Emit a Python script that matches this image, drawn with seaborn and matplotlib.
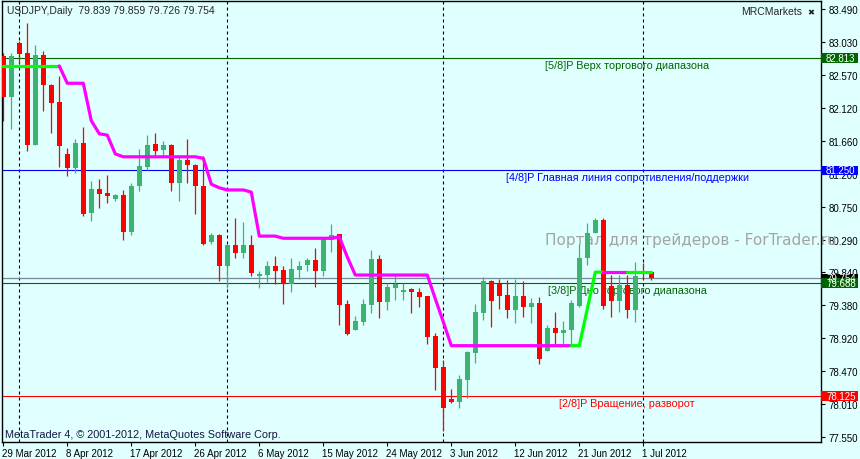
import matplotlib

matplotlib.use("Agg")
import matplotlib.pyplot as plt
import matplotlib.transforms as mtransforms
import numpy as np
import pandas as pd
import seaborn as sns
from matplotlib.patches import Rectangle

# ---- data (USDJPY daily, 29 Mar - 2 Jul 2012) ----
header_text = "USDJPY,Daily  79.839 79.859 79.726 79.754"
broker_text = "MRCMarkets"
copyright_text = "MetaTrader 4, © 2001-2012, MetaQuotes Software Corp."
watermark_text = "Портал для трейдеров - ForTrader.ru"

opens = [82.84, 82.27, 83.02, 82.88, 81.61, 82.85, 82.44, 82.20, 81.48, 81.29,
         81.63, 80.66, 80.99, 80.94, 80.86, 80.91, 80.39, 81.03, 81.30, 81.62,
         81.54, 81.61, 81.07, 81.40, 81.33, 81.04, 80.26, 80.36, 79.92, 80.22,
         80.11, 80.22, 79.79, 79.80, 79.92, 79.87, 79.67, 79.87, 79.94, 80.01,
         79.85, 80.29, 80.37, 79.40, 79.04, 79.15, 79.39, 80.02, 79.43, 79.62,
         79.57, 79.60, 79.56, 79.51, 78.96, 78.52, 78.08, 78.04, 78.35, 78.72,
         79.28, 79.72, 79.68, 79.52, 79.31, 79.51, 79.35, 79.41, 78.75, 79.07,
         79.00, 79.04, 79.37, 80.03, 80.38, 80.56, 79.65, 79.44, 79.66, 79.31,
         79.84, 79.839]
highs = [82.88, 82.88, 83.05, 83.30, 82.99, 82.91, 82.45, 82.56, 81.56, 81.69,
         81.85, 81.10, 81.13, 81.19, 80.93, 80.98, 81.08, 81.55, 81.74, 81.77,
         81.66, 81.62, 81.44, 81.69, 81.34, 81.45, 80.38, 80.37, 80.23, 80.59,
         80.54, 80.36, 79.86, 79.99, 80.07, 79.93, 80.03, 79.99, 80.04, 80.18,
         80.32, 80.51, 80.37, 79.45, 79.23, 79.47, 80.15, 80.08, 79.69, 79.81,
         79.69, 79.62, 79.62, 79.51, 78.99, 78.62, 78.22, 78.42, 78.75, 79.40,
         79.77, 79.73, 79.74, 79.73, 79.75, 79.72, 79.48, 79.50, 79.10, 79.29,
         79.16, 79.45, 80.23, 80.52, 80.59, 80.59, 79.80, 79.80, 79.80, 79.98,
         79.97, 79.859]
lows = [81.93, 81.82, 82.74, 81.52, 81.60, 82.08, 81.77, 81.30, 81.18, 81.21,
        80.62, 80.55, 80.73, 80.80, 80.82, 80.28, 80.35, 80.97, 81.25, 81.46,
        81.44, 80.96, 80.83, 81.07, 80.65, 80.21, 80.23, 79.72, 79.62, 80.03,
        80.03, 79.78, 79.62, 79.71, 79.68, 79.40, 79.57, 79.74, 79.86, 79.64,
        79.79, 80.12, 79.11, 78.97, 79.04, 79.10, 79.28, 79.21, 79.32, 79.46,
        79.46, 79.28, 79.35, 78.85, 78.20, 77.64, 78.03, 77.96, 78.10, 78.58,
        79.18, 79.08, 79.33, 79.21, 79.14, 79.22, 79.13, 78.57, 78.74, 78.81,
        78.82, 78.82, 79.35, 79.94, 80.38, 79.33, 79.22, 79.29, 79.21, 79.15,
        79.75, 79.726]
closes = [82.27, 82.84, 82.87, 81.61, 82.85, 82.43, 82.19, 81.59, 81.29, 81.63,
          80.65, 80.99, 80.93, 80.89, 80.91, 80.40, 81.03, 81.31, 81.60, 81.52,
          81.60, 81.07, 81.40, 81.32, 81.03, 80.23, 80.36, 79.92, 80.22, 80.11,
          80.22, 79.83, 79.82, 79.92, 79.86, 79.67, 79.89, 79.93, 80.01, 79.85,
          80.30, 80.36, 79.39, 78.98, 79.16, 79.40, 80.02, 79.43, 79.63, 79.67,
          79.59, 79.56, 79.50, 78.94, 78.51, 77.95, 78.04, 78.36, 78.73, 79.29,
          79.72, 79.44, 79.51, 79.31, 79.51, 79.36, 79.41, 78.64, 79.07, 79.00,
          79.04, 79.41, 80.04, 80.38, 80.56, 79.37, 79.44, 79.66, 79.31, 79.79,
          79.82, 79.754]

# trailing line of the indicator and its trend state (1 = up/green, 0 = down/magenta)
trail = [82.70, 82.70, 82.70, 82.70, 82.70, 82.70, 82.70, 82.70, 82.46, 82.46,
         82.46, 81.94, 81.76, 81.74, 81.48, 81.44, 81.44, 81.44, 81.44, 81.44,
         81.44, 81.44, 81.44, 81.44, 81.44, 81.42, 81.06, 81.01, 80.98, 80.98,
         80.98, 80.95, 80.34, 80.34, 80.34, 80.31, 80.31, 80.31, 80.31, 80.31,
         80.31, 80.31, 80.33, 80.05, 79.80, 79.80, 79.80, 79.80, 79.80, 79.80,
         79.80, 79.80, 79.80, 79.80, 79.47, 79.15, 78.82, 78.82, 78.82, 78.82,
         78.82, 78.82, 78.82, 78.82, 78.82, 78.82, 78.82, 78.82, 78.82, 78.82,
         78.82, 78.82, 78.82, 79.33, 79.84, 79.84, 79.84, 79.84, 79.84, 79.84,
         79.84, 79.84]
trail_up = [1, 1, 1, 1, 1, 1, 1, 1] + [0] * 64 + [1, 1, 1, 1, 0, 0, 0, 1, 1, 1]

date_ticks = [0, 8, 16, 24, 32, 40, 48, 56, 64, 72, 80]
date_labels = ["29 Mar 2012", "8 Apr 2012", "17 Apr 2012", "26 Apr 2012", "6 May 2012",
               "15 May 2012", "24 May 2012", "3 Jun 2012", "12 Jun 2012", "21 Jun 2012",
               "1 Jul 2012"]
month_starts = [2, 28, 55, 80]

price_ticks = [83.490, 83.030, 82.570, 82.120, 81.660, 81.200, 80.750, 80.290,
               79.840, 79.380, 78.920, 78.470, 78.010, 77.550]

level_values = [82.813, 81.250, 79.688, 78.125]
level_names = ["[5/8]P Верх торгового диапазона",
               "[4/8]P Главная линия сопротивления/поддержки",
               "[3/8]P Дно торгового диапазона",
               "[2/8]P Вращение, разворот"]
bid_price = 79.754

# ---- styles ----
BG = "#E0FFFF"
UP = "#3CB371"
DOWN = "#FF0000"
level_colors = ["#006400", "#0000FF", "#006400", "#FF0000"]
TXT = ["Liberation Sans", "DejaVu Sans"]


def main() -> None:
    sns.set_theme(style="ticks", rc={"axes.facecolor": BG, "figure.facecolor": BG})
    plt.rcParams["font.family"] = TXT

    df = pd.DataFrame({"o": opens, "h": highs, "l": lows, "c": closes,
                       "trail": trail, "up": trail_up})
    df["bar"] = np.arange(len(df))
    df["bull"] = df["c"] >= df["o"]

    W, H = 860, 460
    fig = plt.figure(figsize=(W / 100, H / 100), dpi=100)
    left, right, top, bottom = 2.3, 820.5, 2.0, 442.5
    ax = fig.add_axes([left / W, 1 - bottom / H, (right - left) / W, (bottom - top) / H])
    ax.set_facecolor(BG)
    ax.set_xlim(-0.125, 102.15)
    ax.set_ylim(77.491, 83.601)

    # month separators
    for b in month_starts:
        ax.axvline(b, color="black", lw=0.8, ls=(0, (2.7, 2.7)), zorder=1)

    # levels
    for val, name, col in zip(level_values, level_names, level_colors):
        ax.axhline(val, color=col, lw=0.8, zorder=1.2)
        ax.text(78.0, val - 0.025, name, color=col, fontsize=7.8, ha="center", va="top",
                zorder=1.3)
    ax.axhline(bid_price, color="#778899", lw=0.9, zorder=1.2)

    ax.text(67.7, 80.29, watermark_text, color="#A4A4A4", fontsize=11,
            family="DejaVu Sans", ha="left", va="center", zorder=1.4, clip_on=False)

    # candles
    cols = np.where(df["bull"], UP, DOWN)
    ax.vlines(df["bar"], df["l"], df["h"], colors=cols, lw=0.9, zorder=2)
    body_lo = np.minimum(df["o"], df["c"])
    body_h = np.maximum((df["c"] - df["o"]).abs(), 0.012)
    ax.bar(df["bar"], body_h, bottom=body_lo, width=0.6, color=cols, lw=0, zorder=3)

    # indicator line, split into coloured runs
    runs = []
    cur, state = [0], trail_up[1]
    for i in range(1, len(df)):
        if trail_up[i] == state:
            cur.append(i)
        else:
            runs.append((cur, state))
            cur, state = [i - 1, i], trail_up[i]
    runs.append((cur, state))
    for idx, st in runs:
        part = df.iloc[idx]
        sns.lineplot(x=part["bar"], y=part["trail"], color="#00FF00" if st else "#FF00FF",
                     lw=2.3, estimator=None, sort=False, ax=ax, zorder=4,
                     solid_capstyle="round")

    # axes, ticks
    for s in ax.spines.values():
        s.set_color("black")
        s.set_linewidth(1)
    ax.yaxis.tick_right()
    ax.set_yticks(price_ticks)
    ax.set_yticklabels([f"{p:.3f}" for p in price_ticks])
    ax.set_xticks(date_ticks)
    ax.set_xticklabels(date_labels)
    ax.tick_params(axis="y", length=3, width=0.8, pad=2.5, labelsize=7, colors="black")
    ax.tick_params(axis="x", length=3, width=0.8, pad=1.5, labelsize=7, colors="black")
    shift = mtransforms.ScaledTranslation(-1.5 / 100, 0, fig.dpi_scale_trans)
    for lab in ax.get_xticklabels():
        lab.set_ha("left")
        lab.set_transform(lab.get_transform() + shift)
    ax.set_xlabel("")
    ax.set_ylabel("")

    # price boxes on the right scale
    blend = mtransforms.blended_transform_factory(ax.transAxes, ax.transData)
    box_w = 37.5 / (right - left)
    box_h = 9.5 * (83.601 - 77.491) / (bottom - top)
    boxes = [(82.813, "#006400"), (81.250, "#0000FF"), (bid_price, "#000000"),
             (79.688, "#006400"), (78.125, "#FF0000")]
    for val, col in boxes:
        ax.add_patch(Rectangle((1.0, val - box_h / 2), box_w, box_h, transform=blend,
                               facecolor=col, edgecolor="none", clip_on=False, zorder=6))
        ax.text(1.0 + 5.5 / (right - left), val, f"{val:.3f}", transform=blend,
                color="white", fontsize=7, ha="left", va="center", clip_on=False, zorder=7)

    # chart texts
    fig.text(7 / W, 1 - 11 / H, header_text, fontsize=7.5, ha="left", va="center")
    fig.text(802 / W, 1 - 12 / H, broker_text, fontsize=7.5, ha="right", va="center")
    fig.text(810.5 / W, 1 - 13 / H, "✖", fontsize=6, family="DejaVu Sans",
             ha="center", va="center", color="#202020")
    fig.text(5 / W, 1 - 435 / H, copyright_text, fontsize=7.8, ha="left", va="center",
             color="#151540")

    fig.savefig("out.png", dpi=100, facecolor=BG)
    plt.close(fig)


if __name__ == "__main__":
    main()
